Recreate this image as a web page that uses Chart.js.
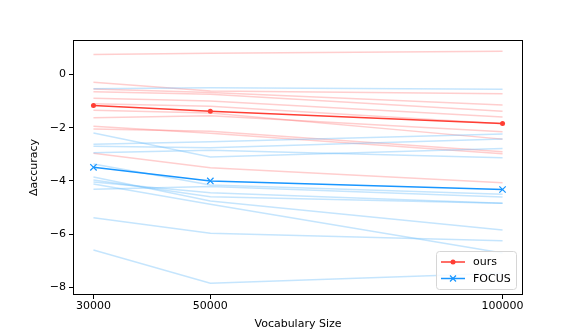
<!DOCTYPE html>
<html>
<head>
<meta charset="utf-8">
<script src="https://cdn.jsdelivr.net/npm/chart.js@4.4.1/dist/chart.umd.min.js"></script>
<style>
  html, body { margin: 0; padding: 0; background: #fff; }
  #wrap { width: 581px; height: 332px; }
</style>
</head>
<body>
<div id="wrap"><canvas id="chart" width="581" height="332"></canvas></div>
<script>
// x positions (vocabulary sizes)
var vocabSizes = [30000, 50000, 100000];

// mean curves
var oursMean = [-1.17, -1.38, -1.84];
var focusMean = [-3.49, -4.00, -4.32];

// per-run curves (faint lines)
var oursRuns = [
    [0.75, 0.79, 0.87],
    [-0.30, -0.62, -0.73],
    [-0.55, -0.68, -1.15],
    [-0.65, -0.75, -1.38],
    [-0.90, -1.00, -1.60],
    [-1.10, -1.20, -1.85],
    [-1.35, -1.45, -2.43],
    [-1.63, -1.55, -2.15],
    [-1.95, -2.21, -2.98],
    [-2.05, -2.13, -2.90],
    [-2.96, -3.50, -4.07]
];
var focusRuns = [
    [-0.54, -0.50, -0.56],
    [-2.62, -2.53, -2.24],
    [-2.70, -2.75, -2.43],
    [-2.20, -3.10, -2.78],
    [-2.94, -2.85, -3.13],
    [-3.36, -4.15, -4.50],
    [-3.85, -4.75, -5.84],
    [-3.96, -4.59, -4.84],
    [-4.04, -4.44, -4.84],
    [-4.11, -4.87, -6.70],
    [-4.31, -4.21, -4.60],
    [-5.38, -5.96, -6.24],
    [-6.59, -7.84, -7.46]
];

var yTicks = [0, -2, -4, -6, -8];

var RED = 'rgb(255,62,52)';
var BLUE = 'rgb(24,150,255)';
var RED_FAINT = 'rgba(255,110,110,0.34)';
var BLUE_FAINT = 'rgba(110,190,250,0.4)';
var FONT = 'DejaVu Sans';
var FSIZE = 11;

function toPoints(vals) {
    return vals.map(function(v, i) { return { x: vocabSizes[i], y: v }; });
}

var datasets = [];
datasets.push({
    label: 'ours', data: toPoints(oursMean), borderColor: RED, backgroundColor: RED,
    borderWidth: 1.5, pointStyle: 'circle', pointRadius: 2.5, pointBorderWidth: 0,
    showLine: true, order: 0
});
datasets.push({
    label: 'FOCUS', data: toPoints(focusMean), borderColor: BLUE, backgroundColor: BLUE,
    borderWidth: 1.5, pointStyle: 'crossRot', pointRadius: 4.5, pointBorderWidth: 1.2,
    showLine: true, order: 0
});
oursRuns.forEach(function(r) {
    datasets.push({ data: toPoints(r), borderColor: RED_FAINT, borderWidth: 1.5,
        pointRadius: 0, showLine: true, order: 2 });
});
focusRuns.forEach(function(r) {
    datasets.push({ data: toPoints(r), borderColor: BLUE_FAINT, borderWidth: 1.5,
        pointRadius: 0, showLine: true, order: 1 });
});

// frame + matplotlib style legend inside the plot
var framePlugin = {
    id: 'frame',
    afterDatasetsDraw: function(chart) {
        var c = chart.ctx, a = chart.chartArea;
        c.save();
        c.strokeStyle = '#000';
        c.lineWidth = 1;
        c.strokeRect(a.left + 0.5, a.top + 0.5, a.right - a.left - 1, a.bottom - a.top - 1);

        // legend
        var bx = 436.5, by = 251.5, bw = 80, bh = 38;
        c.fillStyle = 'rgba(255,255,255,0.85)';
        c.strokeStyle = '#d6d6d6';
        c.beginPath();
        c.roundRect(bx, by, bw, bh, 3);
        c.fill();
        c.stroke();

        c.font = FSIZE + 'px "' + FONT + '"';
        c.textBaseline = 'middle';
        c.textAlign = 'left';
        var rows = [
            { label: 'ours', color: RED, y: 262, marker: 'dot' },
            { label: 'FOCUS', color: BLUE, y: 278.5, marker: 'x' }
        ];
        rows.forEach(function(r) {
            c.strokeStyle = r.color;
            c.lineWidth = 1.5;
            c.beginPath();
            c.moveTo(441, r.y);
            c.lineTo(465, r.y);
            c.stroke();
            if (r.marker === 'dot') {
                c.fillStyle = r.color;
                c.beginPath();
                c.arc(453, r.y, 2.5, 0, Math.PI * 2);
                c.fill();
            } else {
                c.lineWidth = 1.2;
                c.beginPath();
                c.moveTo(450, r.y - 3); c.lineTo(456, r.y + 3);
                c.moveTo(450, r.y + 3); c.lineTo(456, r.y - 3);
                c.stroke();
            }
            c.fillStyle = '#000';
            c.fillText(r.label, 473, r.y + 0.5);
        });
        c.restore();
    }
};

new Chart(document.getElementById('chart'), {
    type: 'scatter',
    data: { datasets: datasets },
    options: {
        responsive: false,
        animation: false,
        devicePixelRatio: 1,
        layout: { padding: { left: 0, right: 58, top: 40, bottom: 0 } },
        plugins: {
            legend: { display: false },
            tooltip: { enabled: false }
        },
        elements: { line: { tension: 0 } },
        scales: {
            x: {
                type: 'linear',
                min: 26500,
                max: 103500,
                afterBuildTicks: function(axis) {
                    axis.ticks = vocabSizes.map(function(v) { return { value: v }; });
                },
                afterFit: function(axis) { axis.height = 37; },
                ticks: {
                    color: '#000',
                    font: { family: FONT, size: FSIZE },
                    padding: 1,
                    maxRotation: 0,
                    callback: function(v) { return String(v); }
                },
                grid: { display: true, drawOnChartArea: false, drawTicks: true, tickLength: 4, color: '#000' },
                border: { display: false },
                title: {
                    display: true, text: 'Vocabulary Size', color: '#000',
                    font: { family: FONT, size: FSIZE }, padding: { top: 2, bottom: 1 }
                }
            },
            y: {
                min: -8.28,
                max: 1.29,
                afterBuildTicks: function(axis) {
                    axis.ticks = yTicks.map(function(v) { return { value: v }; });
                },
                afterFit: function(axis) { axis.width = 73; },
                ticks: {
                    color: '#000',
                    font: { family: FONT, size: FSIZE },
                    padding: 3,
                    callback: function(v) { return v < 0 ? '\u2212' + Math.abs(v) : String(v); }
                },
                grid: { display: true, drawOnChartArea: false, drawTicks: true, tickLength: 4, color: '#000' },
                border: { display: false },
                title: {
                    display: true, text: '\u0394accuracy', color: '#000',
                    font: { family: FONT, size: FSIZE }, padding: { top: 28, bottom: 0 }
                }
            }
        }
    },
    plugins: [framePlugin]
});
</script>
</body>
</html>
